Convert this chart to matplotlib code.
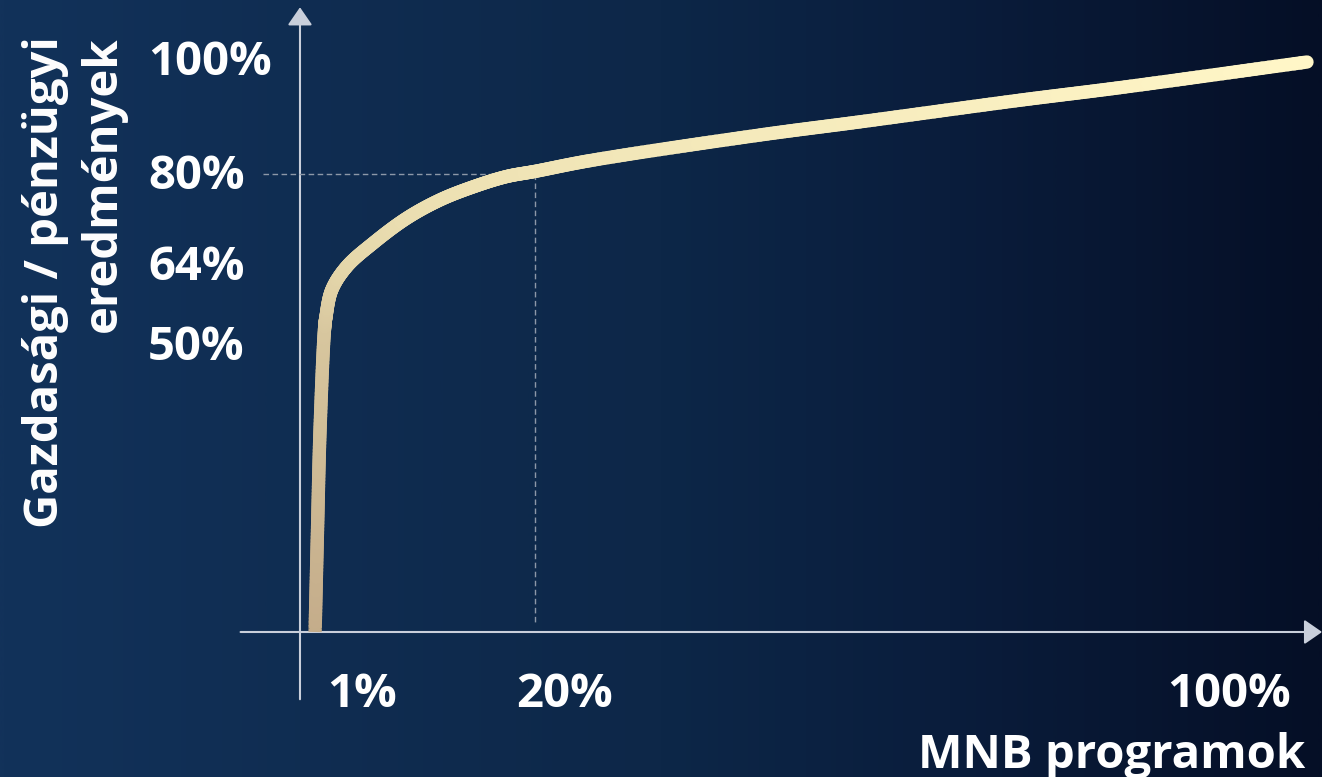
import numpy as np
import matplotlib.pyplot as plt
from matplotlib.collections import LineCollection
from matplotlib.colors import LinearSegmentedColormap

# curve: x = MNB programok (%), y = eredmények (%)
curve_x = [1.5, 1.74, 1.99, 2.43, 2.58, 3.15, 4.64, 7.25, 10.6, 13.9, 17.2, 20.5, 23.3, 28.8, 45.7, 55.6, 71.5, 81.4, 100]
curve_y = [0, 17.9, 35.4, 53.0, 55.3, 60.0, 64.1, 68.2, 72.6, 75.8, 78.1, 79.9, 80.8, 82.7, 87.2, 89.5, 93.3, 95.5, 100]

# the 20% / 80% reference point
knee_x = 23.3
knee_y = 80.4

ytick_vals = [50, 64, 80, 100]
ytick_labels = ["50%", "64%", "80%", "100%"]
xtick_labels = ["1%", "20%", "100%"]
xtick_pos = [6.2, 26.3, 92.3]   # label centres, the picture puts them off the data

plt.rcParams['font.family'] = ['Open Sans', 'DejaVu Sans']

fig = plt.figure(figsize=(13.22, 7.77), dpi=100)
ax = fig.add_axes([0, 0, 1, 1])
xlim = (-29.79, 101.49)
ylim = (-25.44, 110.88)
ax.set_xlim(*xlim)
ax.set_ylim(*ylim)
ax.axis('off')

# background gradient, left to right
bg = LinearSegmentedColormap.from_list(
    'bg', [(0, '#12325a'), (0.5, '#0d2748'), (0.72, '#0a1d3c'), (1, '#050f26')])
grad = np.linspace(0, 1, 512).reshape(1, -1)
ax.imshow(grad, cmap=bg, extent=(*xlim, *ylim), aspect='auto', zorder=0)

# axes with arrows
axis_col = '#c9cfdb'
head = '-|>,head_length=0.55,head_width=0.38'
ax.annotate('', xy=(0, 109.6), xytext=(0, -11.8),
            arrowprops=dict(arrowstyle=head, mutation_scale=20, color=axis_col,
                            lw=1.5, shrinkA=0, shrinkB=0), zorder=2)
ax.annotate('', xy=(101.5, 0), xytext=(-5.9, 0),
            arrowprops=dict(arrowstyle=head, mutation_scale=20, color=axis_col,
                            lw=1.5, shrinkA=0, shrinkB=0), zorder=2)

# dashed guides
ax.plot([-3.7, knee_x], [knee_y, knee_y], ls=(0, (4, 2.5)), color='#8d98a8', lw=1.0, zorder=2)
ax.plot([knee_x, knee_x], [knee_y, 1.75], ls=(0, (4, 2.5)), color='#8d98a8', lw=1.0, zorder=2)


def smooth(xs, ys, n=30):
    # centripetal catmull-rom through the read points (in pixel-like units)
    sx, sy = 10.07, 5.7
    P = np.column_stack([np.array(xs) * sx, np.array(ys) * sy])
    P = np.vstack([2 * P[0] - P[1], P, 2 * P[-1] - P[-2]])
    out = []
    for i in range(1, len(P) - 2):
        p0, p1, p2, p3 = P[i - 1], P[i], P[i + 1], P[i + 2]
        t0 = 0
        t1 = t0 + np.linalg.norm(p1 - p0) ** 0.5
        t2 = t1 + np.linalg.norm(p2 - p1) ** 0.5
        t3 = t2 + np.linalg.norm(p3 - p2) ** 0.5
        for t in np.linspace(t1, t2, n, endpoint=False):
            a1 = (t1 - t) / (t1 - t0) * p0 + (t - t0) / (t1 - t0) * p1
            a2 = (t2 - t) / (t2 - t1) * p1 + (t - t1) / (t2 - t1) * p2
            a3 = (t3 - t) / (t3 - t2) * p2 + (t - t2) / (t3 - t2) * p3
            b1 = (t2 - t) / (t2 - t0) * a1 + (t - t0) / (t2 - t0) * a2
            b2 = (t3 - t) / (t3 - t1) * a2 + (t - t1) / (t3 - t1) * a3
            out.append((t2 - t) / (t2 - t1) * b1 + (t - t1) / (t2 - t1) * b2)
    out.append(P[-2])
    out = np.array(out)
    return out[:, 0] / sx, out[:, 1] / sy


# curve with colour gradient along y
line_cmap = LinearSegmentedColormap.from_list(
    'curve', [(0, '#c4ac8a'), (0.53, '#d7c69e'), (0.64, '#e4d6aa'), (0.8, '#efe3b5'), (1, '#fff6c7')])
sx_, sy_ = smooth(curve_x, curve_y)
segs = [[(sx_[j], sy_[j]), (sx_[j + 1], sy_[j + 1])] for j in range(len(sx_) - 1)]
cols = [line_cmap((sy_[j] + sy_[j + 1]) / 200) for j in range(len(sx_) - 1)]
lw = 9.6
ax.add_collection(LineCollection(segs[:2], colors=cols[:2], linewidths=lw, capstyle='butt', zorder=3))
ax.add_collection(LineCollection(segs[2:], colors=cols[2:], linewidths=lw, capstyle='round',
                                 joinstyle='round', zorder=3))

# tick labels
fs = 34
for v, lab in zip(ytick_vals, ytick_labels):
    ax.annotate(lab, xy=(-15.1, v), xytext=(0, -9), textcoords='offset points',
                ha='left', va='baseline', fontsize=fs, fontweight='bold', color='white')
for p, lab in zip(xtick_pos, xtick_labels):
    ax.text(p, -13.2, lab, ha='center', va='baseline', fontsize=fs, fontweight='bold', color='white')

# axis titles
fig.text(1305 / 1322, 1 - 768 / 777, 'MNB programok', ha='right', va='baseline',
         fontsize=fs, fontweight='bold', color='white')
fig.text(46 / 1322, 1 - 36 / 777, 'Gazdasági / pénzügyi', rotation=90, rotation_mode='anchor',
         ha='right', va='center', fontsize=fs, fontweight='bold', color='white')
fig.text(103 / 1322, 1 - 36 / 777, 'eredmények', rotation=90, rotation_mode='anchor',
         ha='right', va='center', fontsize=fs, fontweight='bold', color='white')

fig.savefig('out.png', dpi=100)
